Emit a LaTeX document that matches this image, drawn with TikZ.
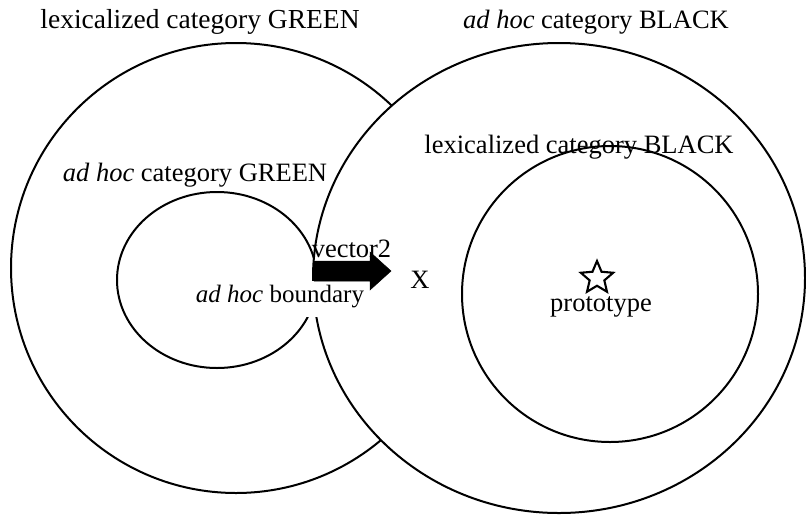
\documentclass[tikz,border=0pt]{standalone}
\usepackage{fontspec}
\setmainfont{Liberation Serif}
\usetikzlibrary{shapes.geometric}
\begin{document}
\begin{tikzpicture}[x=1pt,y=-1pt,
  ring/.style={line width=2pt,draw=black},
  lbl/.style={font=\fontsize{26.5}{30}\selectfont,inner sep=0pt,anchor=base},
  blockarrow/.style={fill=black,draw=black,line width=0.5pt,line join=miter}]
\useasboundingbox (0,0) rectangle (806,515);
\fill[white] (0,0) rectangle (806,515);
% left category GREEN
\draw[ring] (236,268) circle [radius=225pt];
\draw[ring] (217,280) ellipse [x radius=100pt, y radius=88pt];
% right category BLACK (drawn on top)
\filldraw[ring,fill=white] (559,278) ellipse [x radius=246pt, y radius=235pt];
\draw[ring] (610,294) circle [radius=148pt];
% labels
\node[lbl,font=\fontsize{27.5}{30}\selectfont] (lexgreen) at (200,28) {lexicalized category GREEN};
\node[lbl] (adhocblack) at (596,28) {\textit{ad hoc} category BLACK};
\node[lbl] (lexblack) at (579,153) {lexicalized category BLACK};
\node[lbl] (adhocgreen) at (195,181) {\textit{ad hoc} category GREEN};
\node[lbl,font=\fontsize{25}{30}\selectfont,fill=white,inner xsep=3pt,inner ysep=1pt,text height=20pt,text depth=14pt] (boundary) at (280,302) {\textit{ad hoc} boundary};
% vector arrow
\path[blockarrow] (314,261) -- (370,261) -- (370,252) -- (391,271) -- (370,290) -- (370,281) -- (314,281) -- cycle;
\node[lbl] (vec) at (351.5,257) {vector2};
\node[lbl] (x) at (420,288) {X};
% prototype
\node[star,star points=5,star point ratio=2.2,draw=black,line width=2.1pt,line join=miter,minimum size=34pt,inner sep=0pt] (star) at (597,278) {};
\node[lbl] (proto) at (601,311) {prototype};
\end{tikzpicture}
\end{document}
